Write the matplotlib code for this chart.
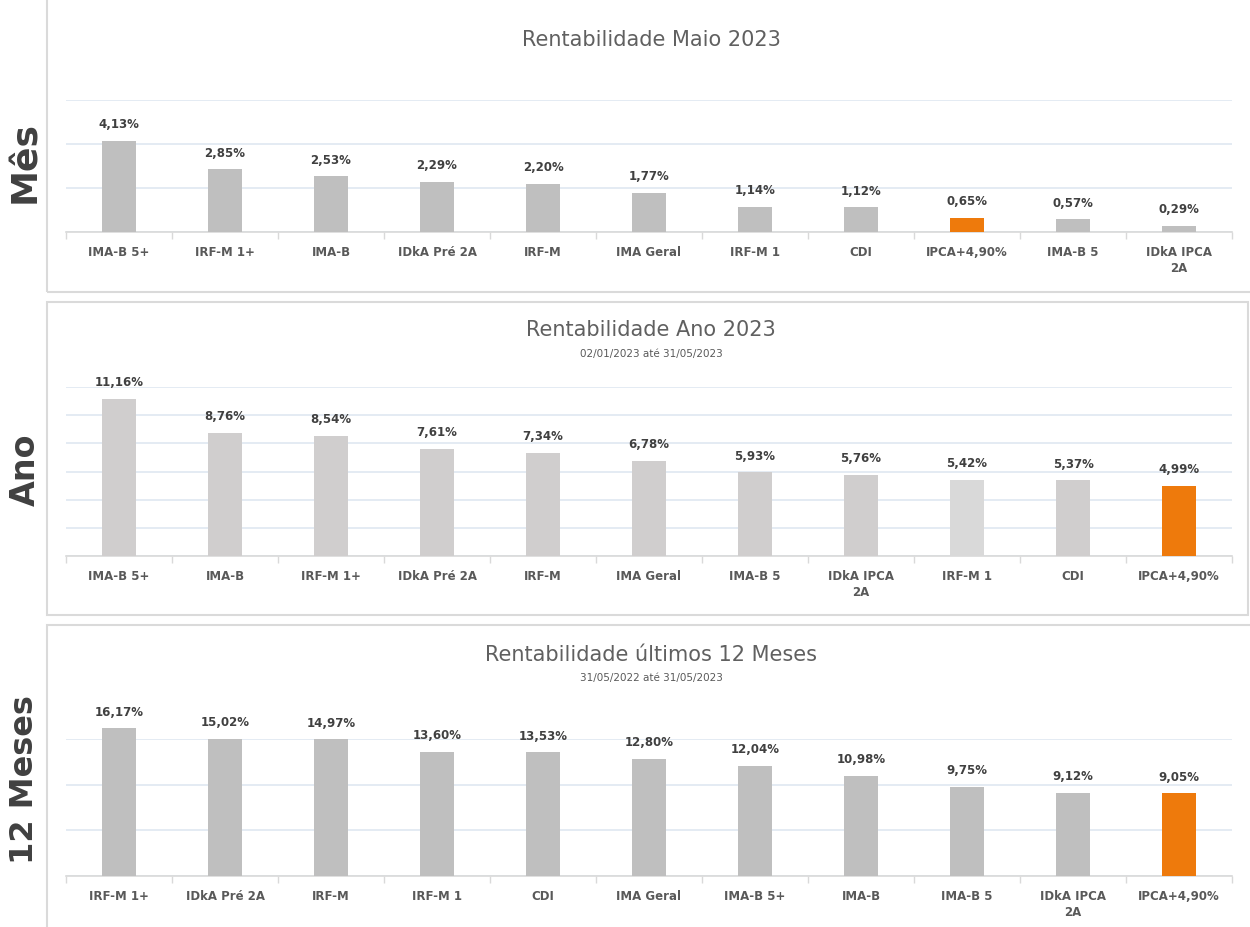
import matplotlib
matplotlib.use("Agg")
import matplotlib.pyplot as plt
from matplotlib.patches import Rectangle

# ---- data ----
mes_categories = ["IMA-B 5+", "IRF-M 1+", "IMA-B", "IDkA Pré 2A", "IRF-M", "IMA Geral",
                  "IRF-M 1", "CDI", "IPCA+4,90%", "IMA-B 5", "IDkA IPCA\n2A"]
mes_values = [4.13, 2.85, 2.53, 2.29, 2.20, 1.77, 1.14, 1.12, 0.65, 0.57, 0.29]

ano_categories = ["IMA-B 5+", "IMA-B", "IRF-M 1+", "IDkA Pré 2A", "IRF-M", "IMA Geral",
                  "IMA-B 5", "IDkA IPCA\n2A", "IRF-M 1", "CDI", "IPCA+4,90%"]
ano_values = [11.16, 8.76, 8.54, 7.61, 7.34, 6.78, 5.93, 5.76, 5.42, 5.37, 4.99]

doze_categories = ["IRF-M 1+", "IDkA Pré 2A", "IRF-M", "IRF-M 1", "CDI", "IMA Geral",
                   "IMA-B 5+", "IMA-B", "IMA-B 5", "IDkA IPCA\n2A", "IPCA+4,90%"]
doze_values = [16.17, 15.02, 14.97, 13.60, 13.53, 12.80, 12.04, 10.98, 9.75, 9.12, 9.05]

titles = ["Rentabilidade Maio 2023", "Rentabilidade Ano 2023", "Rentabilidade últimos 12 Meses"]
subtitles = [None, "02/01/2023 até 31/05/2023", "31/05/2022 até 31/05/2023"]
side_labels = ["Mês", "Ano", "12 Meses"]

GRAY = "#BFBFBF"
GRAY2 = "#D0CECE"
GRAY3 = "#D9D9D9"
ORANGE = "#EE7A0C"

W, H = 1250, 927
fig = plt.figure(figsize=(W / 100, H / 100), dpi=100)
fig.patch.set_facecolor("white")

def fx(x):
    return x / W

def fy(y):
    return 1 - y / H

# panel borders (pixel coords: left, top, right, bottom)
boxes = [(47, -5, 1260, 292), (47, 302, 1248, 615), (47, 625, 1260, 940)]
for (l, t, r, b) in boxes:
    fig.patches.append(Rectangle((fx(l), fy(b)), fx(r - l), (b - t) / H,
                                 transform=fig.transFigure, fill=False,
                                 edgecolor="#DADADA", linewidth=1.5, zorder=0))

panels = [
    dict(cats=mes_categories, vals=mes_values, top=100, base=232, ymax=6, step=2,
         colors=[ORANGE if c.startswith("IPCA") else GRAY for c in mes_categories]),
    dict(cats=ano_categories, vals=ano_values, top=387, base=556, ymax=12, step=2,
         colors=[ORANGE if c.startswith("IPCA") else (GRAY3 if c == "IRF-M 1" else GRAY2)
                 for c in ano_categories]),
    dict(cats=doze_categories, vals=doze_values, top=739, base=876, ymax=15, step=5,
         colors=[ORANGE if c.startswith("IPCA") else GRAY for c in doze_categories]),
]

title_y = [40, 330, 655]
sub_y = [None, 354, 678]
side_y = [162, 470, 780]
side_size = [26, 24, 23]

for i, p in enumerate(panels):
    left, right = 66, 1232
    ax = fig.add_axes([fx(left), fy(p["base"]), fx(right - left), (p["base"] - p["top"]) / H])
    n = len(p["cats"])
    x = list(range(n))
    ax.bar(x, p["vals"], width=0.32, color=p["colors"], zorder=3, clip_on=False)
    for xi, v in zip(x, p["vals"]):
        ax.annotate(f"{v:.2f}%".replace(".", ","), (xi, v), xytext=(0, 7),
                    textcoords="offset points", ha="center", va="bottom",
                    fontsize=8.5, fontweight="bold", color="#404040",
                    family="DejaVu Sans", annotation_clip=False)
    ax.set_xlim(-0.5, n - 0.5)
    ax.set_ylim(0, p["ymax"])
    ax.set_yticks(list(range(0, p["ymax"] + 1, p["step"])))
    ax.yaxis.grid(True, color="#DFE8F1", linewidth=1.2, zorder=0)
    ax.set_axisbelow(True)
    ax.tick_params(axis="y", left=False, labelleft=False)
    ax.set_xticks(x)
    ax.set_xticklabels(p["cats"], fontsize=8.5, fontweight="bold", color="#595959",
                       family="DejaVu Sans", linespacing=1.3)
    ax.tick_params(axis="x", which="major", length=0, pad=10)
    ax.set_xticks([k - 0.5 for k in range(n + 1)], minor=True)
    ax.tick_params(axis="x", which="minor", length=5, color="#D9D9D9", width=1)
    for s in ["top", "right", "left"]:
        ax.spines[s].set_visible(False)
    ax.spines["bottom"].set_color("#D9D9D9")
    ax.spines["bottom"].set_linewidth(1.2)
    ax.set_facecolor("none")

    fig.text(fx(651), fy(title_y[i]), titles[i], ha="center", va="center",
             fontsize=15, color="#606060", family="DejaVu Sans")
    if subtitles[i]:
        fig.text(fx(651), fy(sub_y[i]), subtitles[i], ha="center", va="center",
                 fontsize=7.5, color="#595959", family="DejaVu Sans")
    fig.text(fx(25), fy(side_y[i]), side_labels[i], ha="center", va="center",
             rotation=90, fontsize=side_size[i], color="#404040", family="DejaVu Sans",
             fontweight="semibold")

fig.savefig("out.png", dpi=100, facecolor="white")
